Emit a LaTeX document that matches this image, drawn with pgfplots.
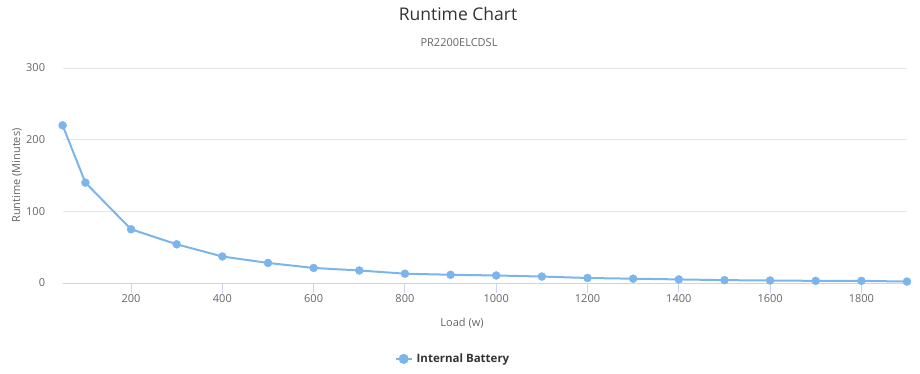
\documentclass[border=0pt]{standalone}
\usepackage{fontspec}
\setmainfont{Open Sans}
\usepackage{pgfplots}
\pgfplotsset{compat=1.18}
\definecolor{hcblue}{HTML}{7CB5EC}
\definecolor{hcgrid}{HTML}{E6E6E6}
\definecolor{hcaxis}{HTML}{CCD6EB}
\definecolor{hclabel}{HTML}{666666}
\definecolor{hctitle}{HTML}{333333}
\begin{document}
\begin{tikzpicture}
\useasboundingbox (0pt,0pt) rectangle (920pt,373pt);
\node[text=hctitle,font=\fontsize{17.5}{20}\selectfont] at (458pt,359pt) {Runtime Chart};
\node[text=hclabel,font=\fontsize{11}{13}\selectfont] at (459pt,330pt) {PR2200ELCDSL};
\begin{axis}[
  at={(62.6pt,90pt)}, anchor=south west,
  width=844.4pt, height=215pt, scale only axis,
  xmin=50, xmax=1900, ymin=0, ymax=300,
  xtick={200,400,...,1800}, ytick={0,100,200,300},
  axis x line*=bottom, axis y line*=left,
  x axis line style={draw=hcaxis, line width=1pt, -},
  y axis line style={draw=none},
  ymajorgrids, grid style={draw=hcgrid, line width=1pt},
  tick align=outside, major tick length=10pt,
  xtick style={draw=hcaxis, line width=1pt},
  ytick style={draw=none},
  /pgf/number format/assume math mode=true,
  /pgf/number format/1000 sep={},
  ticklabel style={font=\fontsize{11}{13}\selectfont, text=hclabel},
  xticklabel style={yshift=2pt},
  yticklabel style={xshift=-4pt},
  xlabel={Load (w)}, ylabel={Runtime (Minutes)},
  label style={font=\fontsize{11}{13}\selectfont, text=hclabel},
  xlabel style={at={(axis description cs:0.473,-0.186)}, anchor=center},
  ylabel style={at={(axis description cs:-0.054,0.5)}, anchor=center},
  legend style={at={(axis description cs:0.4635,-0.353)}, anchor=center, draw=none, fill=none,
    font=\fontsize{11.5}{13}\selectfont\bfseries, text=hctitle},
  legend image code/.code={\draw[hcblue, line width=2pt] (0pt,0pt) -- (16pt,0pt); \fill[hcblue] (8pt,0pt) circle (4pt);},
  legend cell align=left,
  legend style={/tikz/every odd column/.append style={xshift=-2pt}, nodes={inner xsep=4pt}},
  clip=false,
]
\addplot[color=hcblue, line width=2pt, mark=*, mark size=4pt, mark options={solid, fill=hcblue, draw=hcblue, line width=0.4pt}]
coordinates {
(50,220) (100,140) (200,75) (300,54) (400,37) (500,28) (600,21) (700,17.5)
(800,13) (900,11.5) (1000,10.5) (1100,9) (1200,7) (1300,6) (1400,5)
(1500,4) (1600,3.5) (1700,3) (1800,3) (1900,2)
};
\addlegendentry{Internal Battery}
\end{axis}
\end{tikzpicture}
\end{document}
